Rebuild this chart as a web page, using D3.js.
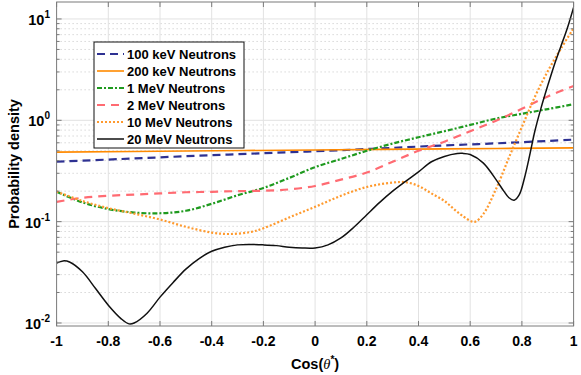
<!DOCTYPE html>
<html>
<head>
<meta charset="utf-8">
<script src="https://cdn.jsdelivr.net/npm/d3@7"></script>
<style>
  body { margin: 0; background: #fff; }
  text { font-family: "Liberation Sans", Arial, Helvetica, sans-serif; font-weight: bold; }
</style>
</head>
<body>
<div id="content"></div>
<script>
(function(){

  //////////////////////////////////////////////////////////////
  //////////////////////// data /////////////////////
  //////////////////////////////////////////////////////////////
  var seriesNames = ["100 keV Neutrons", "200 keV Neutrons", "1 MeV Neutrons",
                     "2 MeV Neutrons", "10 MeV Neutrons", "20 MeV Neutrons"];

  var xTicks = [-1, -0.8, -0.6, -0.4, -0.2, 0, 0.2, 0.4, 0.6, 0.8, 1];
  var xTickLabels = ["-1", "-0.8", "-0.6", "-0.4", "-0.2", "0", "0.2", "0.4", "0.6", "0.8", "1"];
  var yTicks = [0.01, 0.1, 1, 10];
  var yTickExp = ["-2", "-1", "0", "1"];

  // [cos(theta*), probability density]
  var kev100 = [[-1, 0.39], [-0.75, 0.415], [-0.5, 0.442], [-0.25, 0.468], [0, 0.495],
                [0.25, 0.528], [0.5, 0.565], [0.75, 0.6], [1, 0.645]];

  var kev200 = [[-1, 0.485], [-0.5, 0.498], [0, 0.51], [0.5, 0.522], [1, 0.535]];

  var mev1 = [[-1, 0.197], [-0.9, 0.155], [-0.8, 0.133], [-0.7, 0.123], [-0.6, 0.121],
              [-0.5, 0.128], [-0.4, 0.15], [-0.3, 0.182], [-0.2, 0.215], [-0.1, 0.27],
              [0, 0.345], [0.1, 0.415], [0.2, 0.5], [0.3, 0.59], [0.4, 0.68],
              [0.5, 0.78], [0.6, 0.9], [0.7, 1.04], [0.8, 1.16], [0.9, 1.29], [1, 1.44]];

  var mev2 = [[-1, 0.157], [-0.9, 0.172], [-0.8, 0.18], [-0.7, 0.185], [-0.6, 0.19],
              [-0.5, 0.195], [-0.4, 0.197], [-0.3, 0.2], [-0.2, 0.202], [-0.1, 0.208],
              [0, 0.225], [0.1, 0.26], [0.2, 0.305], [0.3, 0.39], [0.4, 0.5],
              [0.5, 0.615], [0.6, 0.78], [0.7, 0.99], [0.8, 1.3], [0.9, 1.72], [1, 2.18]];

  var mev10 = [[-1, 0.198], [-0.9, 0.16], [-0.8, 0.136], [-0.7, 0.12], [-0.6, 0.105],
               [-0.5, 0.089], [-0.4, 0.078], [-0.33, 0.0755], [-0.25, 0.079], [-0.2, 0.086],
               [-0.1, 0.11], [0, 0.14], [0.1, 0.18], [0.2, 0.22], [0.3, 0.243],
               [0.35, 0.245], [0.4, 0.225], [0.45, 0.19], [0.5, 0.16], [0.55, 0.125],
               [0.6, 0.102], [0.62, 0.1], [0.65, 0.118], [0.7, 0.21], [0.75, 0.43],
               [0.8, 0.86], [0.85, 1.7], [0.9, 3.05], [0.95, 5.05], [1, 8.1]];

  var mev20 = [[-1, 0.039], [-0.975, 0.041], [-0.95, 0.04], [-0.9, 0.032], [-0.85, 0.022],
               [-0.8, 0.015], [-0.75, 0.011], [-0.72, 0.0098], [-0.7, 0.01], [-0.65, 0.0125],
               [-0.6, 0.018], [-0.55, 0.025], [-0.5, 0.034], [-0.45, 0.043], [-0.4, 0.051],
               [-0.35, 0.056], [-0.3, 0.059], [-0.25, 0.0595], [-0.2, 0.059], [-0.15, 0.058],
               [-0.1, 0.056], [-0.05, 0.055], [0, 0.055], [0.05, 0.059], [0.1, 0.069],
               [0.15, 0.088], [0.2, 0.117], [0.25, 0.155], [0.3, 0.2], [0.35, 0.25],
               [0.4, 0.31], [0.45, 0.39], [0.5, 0.44], [0.55, 0.47], [0.57, 0.472],
               [0.6, 0.46], [0.65, 0.38], [0.7, 0.26], [0.73, 0.2], [0.75, 0.172],
               [0.77, 0.163], [0.79, 0.185], [0.81, 0.27], [0.83, 0.45], [0.85, 0.78],
               [0.875, 1.35], [0.9, 2.2], [0.925, 3.5], [0.95, 5.3], [0.975, 8.0], [1, 13]];

  var seriesData = [kev100, kev200, mev1, mev2, mev10, mev20];

  var styles = [
    {color: "#2e3192", width: 2.2, dash: "8,5"},
    {color: "#ff8a00", width: 1.6, dash: null},
    {color: "#1f9a1f", width: 2.2, dash: "5,2,2,2"},
    {color: "#ff6b72", width: 2.2, dash: "8,6"},
    {color: "#ff9a2e", width: 2.2, dash: "2,2"},
    {color: "#111111", width: 1.5, dash: null}
  ];

  //////////////////////////////////////////////////////////////
  //////////////////////// chart /////////////////////
  //////////////////////////////////////////////////////////////
  var width = 581, height = 375;
  var left = 56.6, right = 573.6, top = 2, bottom = 326;

  var svg = d3.select("#content").append("svg")
      .attr("width", width)
      .attr("height", height);

  var x = d3.scaleLinear().domain([-1, 1]).range([left, right]);
  var y = d3.scaleLog().domain([0.00934, 14.7]).range([bottom, top]);

  // minor y grid (dotted)
  var minor = [];
  [0.01, 0.1, 1, 10].forEach(function(d){
    for (var k = 2; k <= 9; k++) {
      var v = d * k;
      if (v < y.domain()[1]) minor.push(v);
    }
  });

  svg.append("g").selectAll("line")
      .data(minor)
    .enter().append("line")
      .attr("x1", left).attr("x2", right)
      .attr("y1", function(d){ return y(d); })
      .attr("y2", function(d){ return y(d); })
      .style("stroke", "#c4c4c4")
      .style("stroke-width", 1)
      .style("stroke-dasharray", "1,3");

  // major grids
  svg.append("g").selectAll("line")
      .data(yTicks)
    .enter().append("line")
      .attr("x1", left).attr("x2", right)
      .attr("y1", function(d){ return y(d); })
      .attr("y2", function(d){ return y(d); })
      .style("stroke", "#e2e2e2")
      .style("stroke-width", 1);

  svg.append("g").selectAll("line")
      .data(xTicks.slice(1, -1))
    .enter().append("line")
      .attr("y1", top).attr("y2", bottom)
      .attr("x1", function(d){ return x(d); })
      .attr("x2", function(d){ return x(d); })
      .style("stroke", "#e2e2e2")
      .style("stroke-width", 1);

  // curves
  var line = d3.line()
      .x(function(d){ return x(d[0]); })
      .y(function(d){ return y(d[1]); })
      .curve(d3.curveCatmullRom.alpha(0.5));

  svg.append("clipPath").attr("id", "plotClip")
    .append("rect")
      .attr("x", left).attr("y", top)
      .attr("width", right - left).attr("height", bottom - top);

  var curves = svg.append("g").attr("clip-path", "url(#plotClip)");

  seriesData.forEach(function(s, i){
    curves.append("path")
        .datum(s)
        .attr("d", line)
        .style("fill", "none")
        .style("stroke", styles[i].color)
        .style("stroke-width", styles[i].width)
        .style("stroke-dasharray", styles[i].dash);
  });

  // box and ticks
  var axisColor = "#7a7a7a";
  svg.append("rect")
      .attr("x", left).attr("y", top)
      .attr("width", right - left).attr("height", bottom - top)
      .style("fill", "none")
      .style("stroke", axisColor)
      .style("stroke-width", 1);

  var tickG = svg.append("g").style("stroke", axisColor).style("stroke-width", 1);
  xTicks.forEach(function(d){
    tickG.append("line").attr("x1", x(d)).attr("x2", x(d)).attr("y1", bottom).attr("y2", bottom - 5);
    tickG.append("line").attr("x1", x(d)).attr("x2", x(d)).attr("y1", top).attr("y2", top + 5);
  });
  yTicks.forEach(function(d){
    tickG.append("line").attr("x1", left).attr("x2", left + 5).attr("y1", y(d)).attr("y2", y(d));
    tickG.append("line").attr("x1", right).attr("x2", right - 5).attr("y1", y(d)).attr("y2", y(d));
  });
  minor.forEach(function(d){
    tickG.append("line").attr("x1", left).attr("x2", left + 3).attr("y1", y(d)).attr("y2", y(d));
    tickG.append("line").attr("x1", right).attr("x2", right - 3).attr("y1", y(d)).attr("y2", y(d));
  });

  // tick labels
  svg.append("g").selectAll("text")
      .data(xTicks)
    .enter().append("text")
      .attr("x", function(d){ return x(d); })
      .attr("y", 346)
      .attr("text-anchor", "middle")
      .style("font-size", "14px")
      .text(function(d, i){ return xTickLabels[i]; });

  yTicks.forEach(function(d, i){
    var t = svg.append("text")
        .attr("x", 50)
        .attr("y", y(d) + 6)
        .attr("text-anchor", "end")
        .style("font-size", "14.5px");
    t.append("tspan").text("10");
    t.append("tspan")
        .attr("dy", -7)
        .style("font-size", "10px")
        .text(yTickExp[i]);
  });

  // axis titles
  var xl = svg.append("text")
      .attr("x", (left + right) / 2)
      .attr("y", 369)
      .attr("text-anchor", "middle")
      .style("font-size", "14.5px");
  xl.append("tspan").text("Cos(");
  xl.append("tspan").style("font-style", "italic").style("font-weight", "normal")
      .style("font-family", "'Liberation Serif', serif").text("\u03B8");
  xl.append("tspan").attr("dy", -6).style("font-size", "10px").text("*");
  xl.append("tspan").attr("dy", 6).text(")");

  svg.append("text")
      .attr("transform", "translate(19," + ((top + bottom) / 2) + ") rotate(-90)")
      .attr("text-anchor", "middle")
      .style("font-size", "14.5px")
      .text("Probability density");

  // legend
  var lg = svg.append("g").attr("transform", "translate(94,42)");
  lg.append("rect")
      .attr("width", 150).attr("height", 106)
      .style("fill", "#fff")
      .style("stroke", "#111")
      .style("stroke-width", 1);

  seriesNames.forEach(function(name, i){
    var yy = 12 + i * 17;
    lg.append("line")
        .attr("x1", 3).attr("x2", 30)
        .attr("y1", yy).attr("y2", yy)
        .style("stroke", styles[i].color)
        .style("stroke-width", styles[i].width)
        .style("stroke-dasharray", styles[i].dash);
    lg.append("text")
        .attr("x", 33)
        .attr("y", yy + 4.5)
        .style("font-size", "13px")
        .text(name);
  });

})();
</script>
</body>
</html>
